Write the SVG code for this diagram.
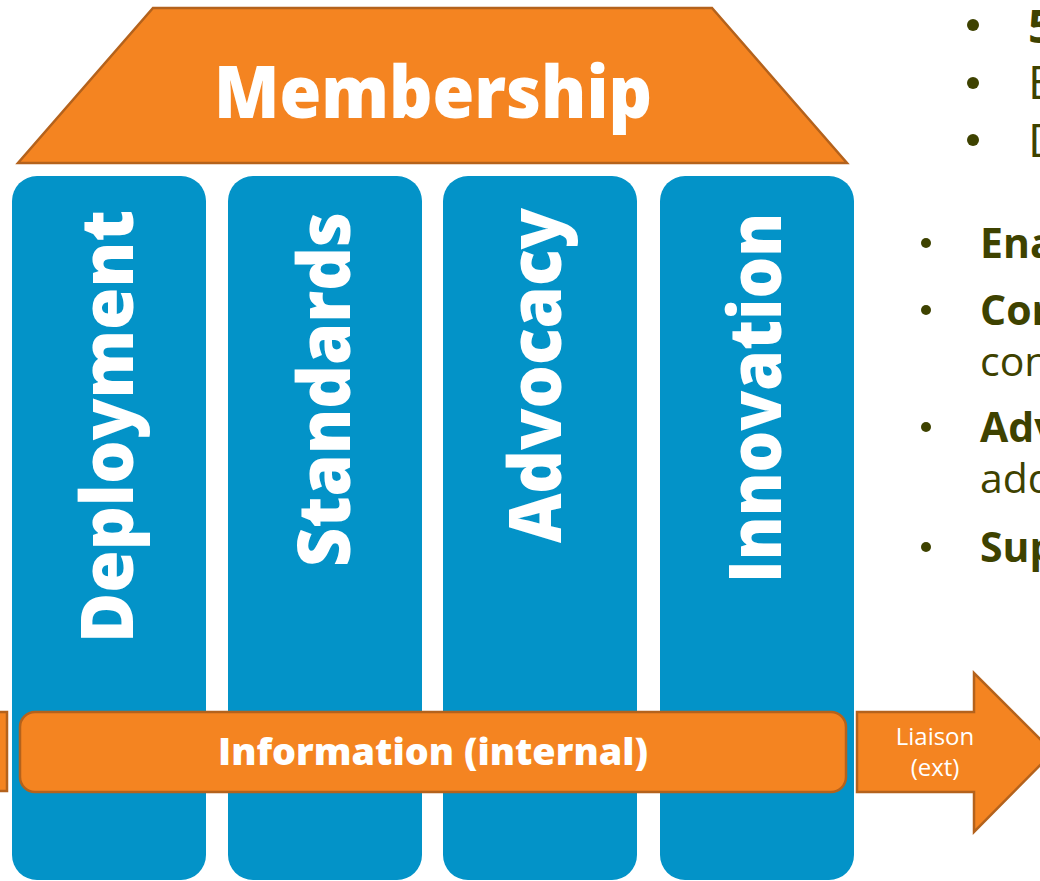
<svg xmlns="http://www.w3.org/2000/svg" width="1040" height="881" viewBox="0 0 1040 881">
<style>
.or{fill:#F48421;stroke:#B4621C;stroke-width:2.5}
.pil{fill:#0393C8}
.wt{fill:#FFFFFF;font-family:"Open Sans","Noto Sans","DejaVu Sans",sans-serif}
.b{font-weight:bold}
.xb{font-weight:800}
.pt{font-size:73px;font-weight:800}
.bl{fill:#3E4200;font-family:"Open Sans","Noto Sans","DejaVu Sans",sans-serif}
.dot{fill:#3E4200}
</style>
<rect width="1040" height="881" fill="#FFFFFF"/>
<g id="membership">
<polygon class="or" points="153,8 712,8 847,163 18,163"/>
<text class="wt xb" x="433" y="118" font-size="72" text-anchor="middle" textLength="438" lengthAdjust="spacingAndGlyphs">Membership</text>
</g>
<g id="pillar-deployment">
<rect class="pil" x="12" y="176" width="194" height="704" rx="25" ry="25"/>
<text class="wt pt" transform="translate(133,210) rotate(-90)" text-anchor="end" textLength="433" lengthAdjust="spacingAndGlyphs">Deployment</text>
</g>
<g id="pillar-standards">
<rect class="pil" x="228" y="176" width="194" height="704" rx="25" ry="25"/>
<text class="wt pt" transform="translate(350,212) rotate(-90)" text-anchor="end" textLength="355" lengthAdjust="spacingAndGlyphs">Standards</text>
</g>
<g id="pillar-advocacy">
<rect class="pil" x="443" y="176" width="194" height="704" rx="25" ry="25"/>
<text class="wt pt" transform="translate(561,208) rotate(-90)" text-anchor="end" textLength="335" lengthAdjust="spacingAndGlyphs">Advocacy</text>
</g>
<g id="pillar-innovation">
<rect class="pil" x="660" y="176" width="194" height="704" rx="25" ry="25"/>
<text class="wt pt" transform="translate(781,213) rotate(-90)" text-anchor="end" textLength="370" lengthAdjust="spacingAndGlyphs">Innovation</text>
</g>
<g id="info-left">
<rect class="or" x="-10" y="712" width="17" height="79"/>
</g>
<g id="information">
<rect class="or" x="20" y="712" width="826" height="80" rx="15" ry="15"/>
<text class="wt xb" x="433" y="765" font-size="37" text-anchor="middle" textLength="430" lengthAdjust="spacingAndGlyphs">Information (internal)</text>
</g>
<g id="connectors">
<g id="liaison">
<polygon class="or" points="857,712 974,712 974,673 1053,752 974,832 974,792 857,792"/>
<text class="wt" x="935" y="745" font-size="24" text-anchor="middle">Liaison</text>
<text class="wt" x="935" y="776" font-size="24" text-anchor="middle">(ext)</text>
</g>
</g>
<g id="bullets">
<circle class="dot" cx="973" cy="25" r="6"/>
<circle class="dot" cx="973" cy="83" r="6"/>
<circle class="dot" cx="973" cy="140" r="6"/>
<text class="bl b" x="1028" y="43" font-size="46">5</text>
<text class="bl" x="1028" y="99" font-size="46">E</text>
<text class="bl" x="1028" y="157" font-size="46">D</text>
<circle class="dot" cx="926" cy="243" r="5"/>
<circle class="dot" cx="926" cy="310" r="5"/>
<circle class="dot" cx="926" cy="427" r="5"/>
<circle class="dot" cx="926" cy="547" r="5"/>
<text class="bl b" x="980" y="258" font-size="41">Ena</text>
<text class="bl b" x="980" y="325" font-size="41">Cor</text>
<text class="bl" x="980" y="376" font-size="41">con</text>
<text class="bl b" x="980" y="442" font-size="41">Adv</text>
<text class="bl" x="980" y="493" font-size="41">add</text>
<text class="bl b" x="980" y="562" font-size="41">Sup</text>
</g>
</svg>
